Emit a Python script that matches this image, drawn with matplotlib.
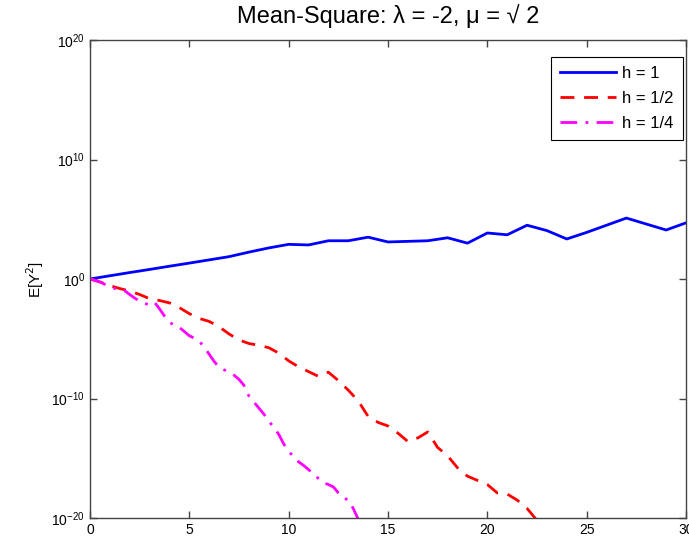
import numpy as np
import matplotlib
matplotlib.use("Agg")
import matplotlib.pyplot as plt

plt.rcParams['font.family'] = ['Liberation Sans', 'DejaVu Sans']

# log10 of E[Y^2]
t_h1 = np.arange(0, 31, 1.0)
log_h1 = [0, 0.27, 0.54, 0.8, 1.07, 1.33, 1.6, 1.87, 2.25, 2.6, 2.9,
          2.85, 3.2, 3.2, 3.5, 3.1, 3.15, 3.2, 3.45, 3.0, 3.85,
          3.7, 4.5, 4.05, 3.35, 3.9, 4.5, 5.1, 4.6, 4.1, 4.7]

t_h2 = np.arange(0, 23.01, 0.5)
log_h2 = [0, -0.25, -0.55, -0.8, -1.0, -1.3, -1.65, -1.8, -2.0, -2.4,
          -2.9, -3.3, -3.55, -4.0, -4.6, -5.1, -5.4, -5.55, -5.75, -6.2,
          -6.85, -7.35, -7.75, -8.15, -7.8, -8.5, -9.3, -10.2, -11.5, -12.0,
          -12.3, -12.9, -13.6, -13.3, -12.8, -14.1, -14.8, -15.8, -16.5, -16.85,
          -17.2, -17.9, -18.0, -18.5, -19.2, -20.2, -21.0]

t_h4 = np.arange(0, 13.76, 0.25)
log_h4 = [0, -0.1, -0.25, -0.45, -0.6, -0.8, -0.95, -0.98, -1.3, -1.6,
          -1.85, -2.05, -2.15, -1.95, -2.5, -3.1, -3.6, -3.9, -4.05, -4.4,
          -4.75, -4.95, -5.2, -5.7, -6.3, -6.9, -7.4, -7.6, -7.8, -8.05,
          -8.4, -8.9, -9.8, -10.3, -10.8, -11.3, -11.9, -12.4, -13.0, -13.8,
          -14.4, -14.9, -15.3, -15.6, -15.95, -16.3, -16.7, -17.05, -17.2, -17.4,
          -17.9, -18.3, -18.5, -19.2, -20.1, -21.0]

labels = ['h = 1', 'h = 1/2', 'h = 1/4']
x_ticks = [0, 5, 10, 15, 20, 25, 30]
y_ticks = [1e-20, 1e-10, 1e0, 1e10, 1e20]

fig = plt.figure(figsize=(6.89, 5.39), dpi=100)
ax = fig.add_axes([90/689, 1-518/539, (686-90)/689, (518-40)/539])

ax.semilogy(t_h1, 10.0**np.array(log_h1), '-', color='#0000ff', lw=2, label=labels[0])
ax.semilogy(t_h2, 10.0**np.array(log_h2), '--', color='#ff0000', lw=2, label=labels[1], dashes=(5, 3.5))
ax.semilogy(t_h4, 10.0**np.array(log_h4), '-.', color='#ff00ff', lw=2, label=labels[2], dashes=(6, 3, 1, 3))

ax.set_xlim(0, 30)
ax.set_ylim(1e-20, 1e20)
ax.set_xticks(x_ticks)
ax.set_yticks(y_ticks)
ax.yaxis.set_minor_locator(matplotlib.ticker.NullLocator())
ax.tick_params(direction='in', top=True, right=True, labelsize=10, length=5,
               color='#444444', width=1)
for s in ax.spines.values():
    s.set_color('#444444')
    s.set_linewidth(1)

ax.set_title('Mean-Square: λ = -2, μ = √ 2', fontsize=17, pad=12)
ax.set_ylabel('E[Y$^2$]', fontsize=11, labelpad=4)

leg = ax.legend(loc='upper right', bbox_to_anchor=((683-90)/596, (518-57)/478),
                fontsize=12, fancybox=False, framealpha=1, borderaxespad=0,
                edgecolor='black', handlelength=3.35, labelspacing=0.58,
                borderpad=0.55, handletextpad=0.4)
leg.get_frame().set_linewidth(0.8)

fig.savefig('out.png', dpi=100)
